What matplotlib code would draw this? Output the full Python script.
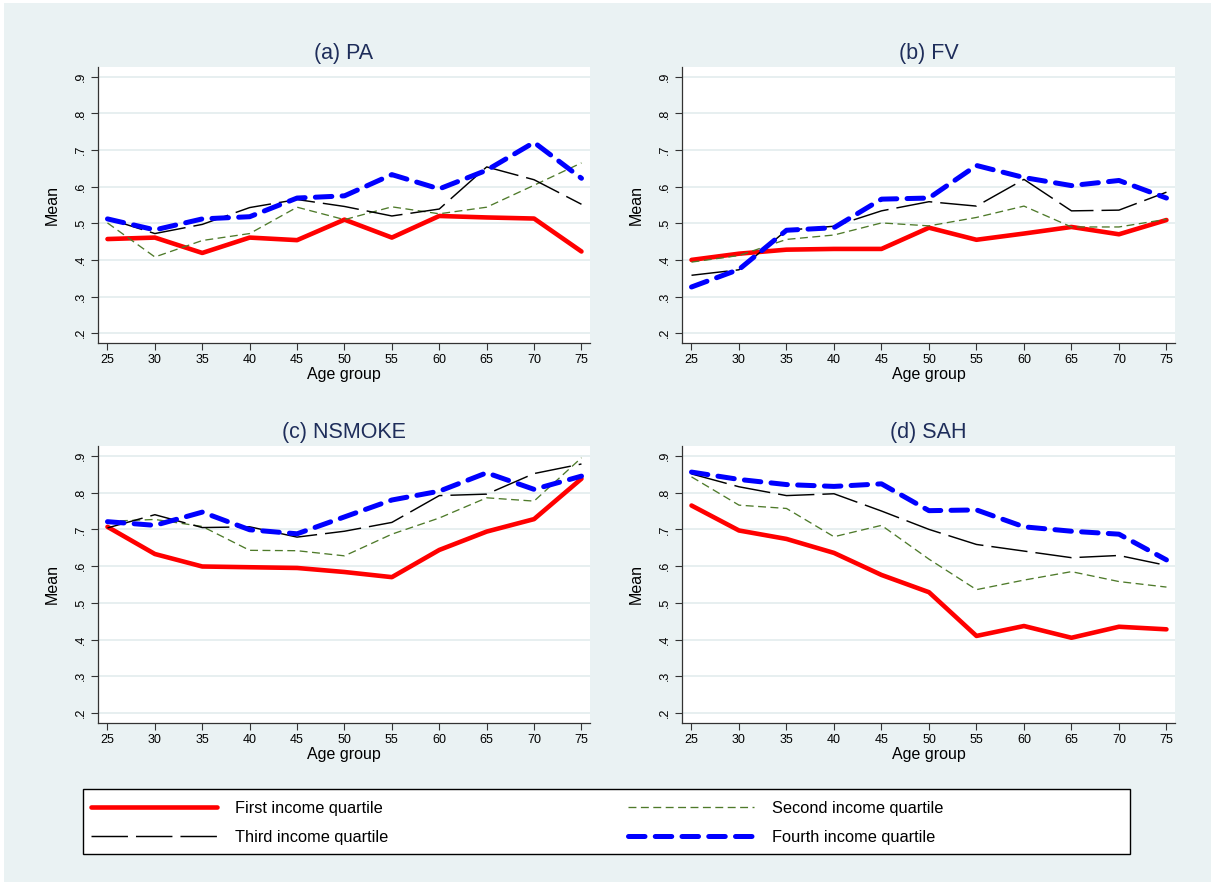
import numpy as np
import matplotlib.pyplot as plt
from matplotlib.patches import Rectangle

plt.rcParams['font.family'] = ['Liberation Sans', 'DejaVu Sans']

ages = [25, 30, 35, 40, 45, 50, 55, 60, 65, 70, 75]

# (a) PA
pa_q1 = [0.457, 0.461, 0.419, 0.461, 0.454, 0.510, 0.461, 0.520, 0.516, 0.513, 0.423]
pa_q2 = [0.501, 0.408, 0.453, 0.472, 0.544, 0.510, 0.545, 0.526, 0.544, 0.604, 0.665]
pa_q3 = [0.513, 0.472, 0.497, 0.543, 0.565, 0.546, 0.520, 0.539, 0.654, 0.619, 0.552]
pa_q4 = [0.512, 0.482, 0.512, 0.518, 0.569, 0.575, 0.633, 0.594, 0.645, 0.721, 0.623]

# (b) FV
fv_q1 = [0.400, 0.417, 0.428, 0.430, 0.430, 0.488, 0.455, 0.472, 0.490, 0.470, 0.509]
fv_q2 = [0.394, 0.412, 0.456, 0.468, 0.501, 0.493, 0.516, 0.547, 0.490, 0.490, 0.511]
fv_q3 = [0.358, 0.373, 0.481, 0.492, 0.534, 0.559, 0.547, 0.620, 0.534, 0.536, 0.585]
fv_q4 = [0.326, 0.374, 0.481, 0.488, 0.566, 0.569, 0.658, 0.625, 0.603, 0.617, 0.569]

# (c) NSMOKE
ns_q1 = [0.707, 0.633, 0.599, 0.597, 0.595, 0.584, 0.570, 0.644, 0.694, 0.728, 0.838]
ns_q2 = [0.722, 0.727, 0.708, 0.643, 0.642, 0.628, 0.687, 0.731, 0.786, 0.777, 0.895]
ns_q3 = [0.704, 0.740, 0.705, 0.707, 0.679, 0.695, 0.719, 0.792, 0.796, 0.852, 0.878]
ns_q4 = [0.721, 0.711, 0.747, 0.699, 0.688, 0.734, 0.780, 0.804, 0.854, 0.809, 0.845]

# (d) SAH
sah_q1 = [0.765, 0.697, 0.674, 0.636, 0.576, 0.529, 0.410, 0.437, 0.405, 0.435, 0.428]
sah_q2 = [0.843, 0.766, 0.757, 0.680, 0.711, 0.619, 0.536, 0.562, 0.585, 0.558, 0.543]
sah_q3 = [0.851, 0.816, 0.792, 0.797, 0.750, 0.700, 0.659, 0.641, 0.623, 0.629, 0.602]
sah_q4 = [0.856, 0.836, 0.822, 0.817, 0.824, 0.751, 0.753, 0.707, 0.695, 0.687, 0.617]

titles = ["(a) PA", "(b) FV", "(c) NSMOKE", "(d) SAH"]
panels = [
    [pa_q1, pa_q2, pa_q3, pa_q4],
    [fv_q1, fv_q2, fv_q3, fv_q4],
    [ns_q1, ns_q2, ns_q3, ns_q4],
    [sah_q1, sah_q2, sah_q3, sah_q4],
]
labels = ["First income quartile", "Second income quartile",
          "Third income quartile", "Fourth income quartile"]
yticks = [0.2, 0.3, 0.4, 0.5, 0.6, 0.7, 0.8, 0.9]
ytick_labels = [".2", ".3", ".4", ".5", ".6", ".7", ".8", ".9"]

styles = [
    dict(color="#FF0000", lw=3.3, ls="-", solid_capstyle="round"),
    dict(color="#4E7A2A", lw=0.95, ls=(0, (6.0, 3.4))),
    dict(color="black", lw=1.05, ls=(0, (25, 5.5))),
    dict(color="#0000FF", lw=3.6, ls=(0, (3.3, 2.05)), dash_capstyle="round"),
]
draw_order = [1, 2, 3, 0]

bg = "#EAF2F3"
W, H = 1211, 882
fig = plt.figure(figsize=(W / 100, H / 100), dpi=100, facecolor="white")
fig.patches.append(Rectangle((4 / W, 0), 1, 1 - 3 / H,
                             transform=fig.transFigure, facecolor=bg,
                             edgecolor="none", zorder=-10))

# axes boxes in pixels: left, right, top, bottom
boxes = [(98, 590, 67, 343), (682, 1175, 67, 343),
         (98, 590, 446, 723), (682, 1175, 446, 723)]

handles = [None] * 4
for k, (l, r, t, b) in enumerate(boxes):
    ax = fig.add_axes([l / W, (H - b) / H, (r - l) / W, (b - t) / H])
    ax.set_facecolor("white")
    series = panels[k]
    for i in draw_order:
        ln, = ax.plot(ages, series[i], zorder=3 + i, **styles[i])
        handles[i] = ln
    ax.set_xlim(24.0, 75.9)
    ax.set_ylim(0.173, 0.927)
    ax.set_xticks(ages)
    ax.set_yticks(yticks)
    ax.set_yticklabels(ytick_labels, rotation=90, va="center")
    ax.grid(axis="y", color="#E3ECEE", lw=1.2)
    ax.set_axisbelow(True)
    for s in ["top", "right"]:
        ax.spines[s].set_visible(False)
    for s in ["left", "bottom"]:
        ax.spines[s].set_color("#333333")
        ax.spines[s].set_linewidth(0.9)
    ax.tick_params(labelsize=9, length=5, width=0.8, color="#333333", pad=3)
    ax.set_xlabel("Age group", fontsize=11.5, labelpad=1)
    ax.set_ylabel("Mean", fontsize=11.5, labelpad=11)
    ax.set_title(titles[k], fontsize=15.5, color="#1E2D5A", pad=6)

# legend frame
fig.patches.append(Rectangle((83 / W, (H - 854) / H), (1130 - 83) / W, 65 / H,
                             transform=fig.transFigure, facecolor="white",
                             edgecolor="black", lw=1.0, zorder=1))

common = dict(loc="center left", fontsize=11.8, frameon=False,
              handlelength=7.7, handletextpad=1.1, borderaxespad=0,
              borderpad=0, labelspacing=0.87)
fig.legend([handles[0], handles[2]], [labels[0], labels[2]],
           bbox_to_anchor=(91 / W, 59 / H), **common)
fig.legend([handles[1], handles[3]], [labels[1], labels[3]],
           bbox_to_anchor=(628 / W, 59 / H), **common)

fig.savefig("out.png", dpi=100, facecolor="white")
